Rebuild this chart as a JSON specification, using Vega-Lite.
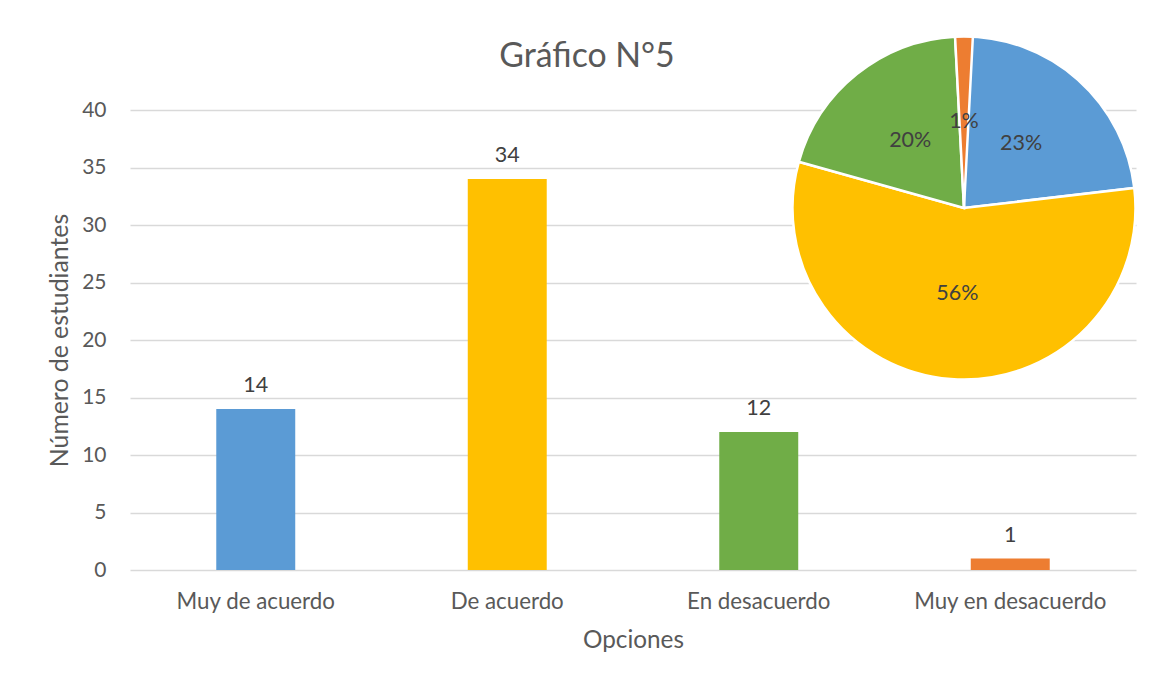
{
  "$schema": "https://vega.github.io/schema/vega-lite/v6.json",
  "width": 1006,
  "height": 460,
  "autosize": {"type": "none"},
  "padding": {"left": 130, "top": 110, "right": 17, "bottom": 112},
  "background": "white",
  "title": {
    "text": "Gráfico N°5",
    "font": "Lato",
    "fontSize": 33.8,
    "fontWeight": "normal",
    "color": "#595959",
    "anchor": "middle",
    "frame": "group",
    "baseline": "alphabetic",
    "offset": -69.7,
    "dx": -46
  },
  "data": {
    "values": [
      {"Opcion": "Muy de acuerdo", "n": 14, "pct": "23%"},
      {"Opcion": "De acuerdo", "n": 34, "pct": "56%"},
      {"Opcion": "En desacuerdo", "n": 12, "pct": "20%"},
      {"Opcion": "Muy en desacuerdo", "n": 1, "pct": "1%"}
    ]
  },
  "layer": [
    {
      "encoding": {
        "x": {
          "field": "Opcion",
          "type": "nominal",
          "sort": null,
          "scale": {"paddingInner": 0.686, "paddingOuter": 0.343},
          "axis": {
            "title": "Opciones",
            "labelAngle": 0,
            "labelLimit": 0,
            "labelFont": "Lato",
            "labelFontSize": 22.3,
            "labelColor": "#595959",
            "labelBaseline": "alphabetic",
            "labelPadding": 38,
            "ticks": false,
            "tickSize": 0,
            "domain": false,
            "titleFont": "Lato",
            "titleFontSize": 24.3,
            "titleFontWeight": "normal",
            "titleColor": "#595959",
            "titleBaseline": "alphabetic",
            "titlePadding": 35
          }
        },
        "y": {
          "field": "n",
          "type": "quantitative",
          "scale": {"domain": [0, 40]},
          "axis": {
            "title": "Número de estudiantes",
            "values": [0, 5, 10, 15, 20, 25, 30, 35, 40],
            "labelFont": "Lato",
            "labelFontSize": 21,
            "labelColor": "#595959",
            "labelPadding": 24,
            "ticks": false,
            "tickSize": 0,
            "domain": false,
            "grid": true,
            "gridColor": "#D9D9D9",
            "gridWidth": 1.3,
            "titleFont": "Lato",
            "titleFontSize": 24.8,
            "titleFontWeight": "normal",
            "titleColor": "#595959",
            "titleBaseline": "alphabetic",
            "titlePadding": 14
          }
        }
      },
      "layer": [
        {
          "mark": {"type": "bar"},
          "encoding": {
            "color": {
              "field": "Opcion",
              "type": "nominal",
              "scale": {
                "domain": ["Muy de acuerdo", "De acuerdo", "En desacuerdo", "Muy en desacuerdo"],
                "range": ["#5B9BD5", "#FFC000", "#70AD47", "#ED7D31"]
              },
              "legend": null
            }
          }
        },
        {
          "mark": {
            "type": "text",
            "font": "Lato",
            "fontSize": 21.5,
            "fill": "#404040",
            "baseline": "alphabetic",
            "align": "center",
            "dy": -17
          },
          "encoding": {"text": {"field": "n", "type": "quantitative"}}
        }
      ]
    },
    {
      "layer": [
        {
          "transform": [{"stack": "n", "groupby": [], "as": ["t0", "t1"]}],
          "mark": {"type": "arc", "outerRadius": 171.5, "stroke": "white", "strokeWidth": 2.5},
          "encoding": {
            "x": {"datum": 0.829, "type": "quantitative", "scale": {"domain": [0, 1]}, "axis": null, "stack": false},
            "y": {"datum": 0.787, "type": "quantitative", "scale": {"domain": [0, 1]}, "axis": null, "stack": false},
            "theta": {"field": "t0", "type": "quantitative"},
            "theta2": {"field": "t1"},
            "color": {
              "field": "Opcion",
              "type": "nominal",
              "scale": {
                "domain": ["Muy de acuerdo", "De acuerdo", "En desacuerdo", "Muy en desacuerdo"],
                "range": ["#5B9BD5", "#FFC000", "#70AD47", "#ED7D31"]
              },
              "legend": null
            }
          }
        },
        {
          "transform": [
            {"stack": "n", "groupby": [], "as": ["t0", "t1"]},
            {"fold": ["t0", "t1"], "as": ["k", "v"]},
            {"aggregate": [{"op": "mean", "field": "v", "as": "mid"}], "groupby": ["Opcion", "pct"]}
          ],
          "mark": {"type": "text", "radius": 86, "font": "Lato", "fontSize": 21.5, "fill": "#404040"},
          "encoding": {
            "x": {"datum": 0.829, "type": "quantitative", "scale": {"domain": [0, 1]}, "axis": null, "stack": false},
            "y": {"datum": 0.787, "type": "quantitative", "scale": {"domain": [0, 1]}, "axis": null, "stack": false},
            "theta": {"field": "mid", "type": "quantitative"},
            "text": {"field": "pct", "type": "nominal"}
          }
        }
      ]
    }
  ],
  "resolve": {"scale": {"x": "independent", "y": "independent"}},
  "config": {
    "view": {"stroke": null},
    "font": "Lato"
  }
}
